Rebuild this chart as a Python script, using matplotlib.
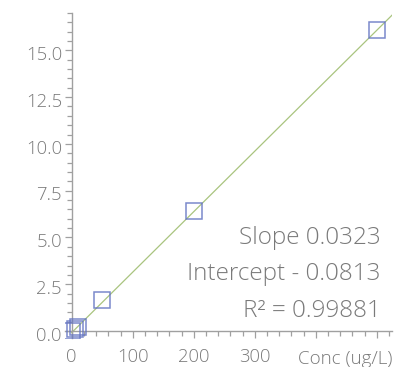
import numpy as np
import matplotlib.pyplot as plt
import matplotlib.transforms as mtransforms
from matplotlib.ticker import MultipleLocator, FormatStrFormatter

# Calibration standards (concentration in ug/L) and measured response
conc = [0, 5, 10, 50, 200, 500]
response = [0.0, 0.1, 0.2, 1.64, 6.42, 16.1]

slope = 0.0323
intercept = -0.0813
r2 = 0.99881

text_color = "#7a7a7a"
axis_color = "#a0a0a0"

plt.rcParams["font.family"] = ["Open Sans", "DejaVu Sans"]
plt.rcParams["font.weight"] = "light"

fig = plt.figure(figsize=(3.94, 3.67), dpi=100)
ax = fig.add_axes([0.165, 0.079, 0.83, 0.886])

ax.set_xlim(-11, 525)
ax.set_ylim(-0.37, 17.0)

# Fitted calibration line
x_fit = np.array([0, 530])
ax.plot(x_fit, slope * x_fit + intercept, color="#a9c47f", lw=0.9, zorder=2)

ax.plot(conc, response, linestyle="none", marker="s", ms=11.5,
        mfc="none", mec="#6474c2", mew=1.1, alpha=0.85, zorder=3)

for side in ["top", "right"]:
    ax.spines[side].set_visible(False)
for side in ["left", "bottom"]:
    ax.spines[side].set_position(("data", 0))
    ax.spines[side].set_color(axis_color)
    ax.spines[side].set_linewidth(1.0)

ax.xaxis.set_major_locator(MultipleLocator(100))
ax.xaxis.set_minor_locator(MultipleLocator(20))
ax.yaxis.set_major_locator(MultipleLocator(2.5))
ax.yaxis.set_minor_locator(MultipleLocator(0.5))
ax.yaxis.set_major_formatter(FormatStrFormatter("%.1f"))
ax.set_xticks([0, 100, 200, 300, 400, 500])
ax.set_xticklabels(["0", "100", "200", "300", "", ""])

ax.tick_params(which="both", direction="out", color=axis_color,
               labelcolor=text_color, labelsize=13.3, width=0.9)
ax.tick_params(which="major", length=5)
ax.tick_params(which="minor", length=3.5)
ax.tick_params(axis="x", which="major", pad=7.5)
ax.tick_params(axis="y", which="major", pad=2)

# y labels sit a touch below their ticks
shift = mtransforms.ScaledTranslation(0, -2 / 72, fig.dpi_scale_trans)
for lbl in ax.get_yticklabels():
    lbl.set_transform(lbl.get_transform() + shift)

ax.annotate("Conc (ug/L)", xy=(1.0, 0), xycoords="axes fraction",
            xytext=(0, -8.5), textcoords="offset points",
            ha="right", va="top", fontsize=13.5, color=text_color)

stats = [f"Slope {slope:.4f}",
         f"Intercept - {abs(intercept):.4f}",
         f"R² = {r2:.5f}"]
for i, line in enumerate(stats):
    ax.text(0.966, 0.308 - i * 0.112, line, transform=ax.transAxes,
            ha="right", va="center", fontsize=17.5, color=text_color)

fig.savefig("out.png", dpi=100)
